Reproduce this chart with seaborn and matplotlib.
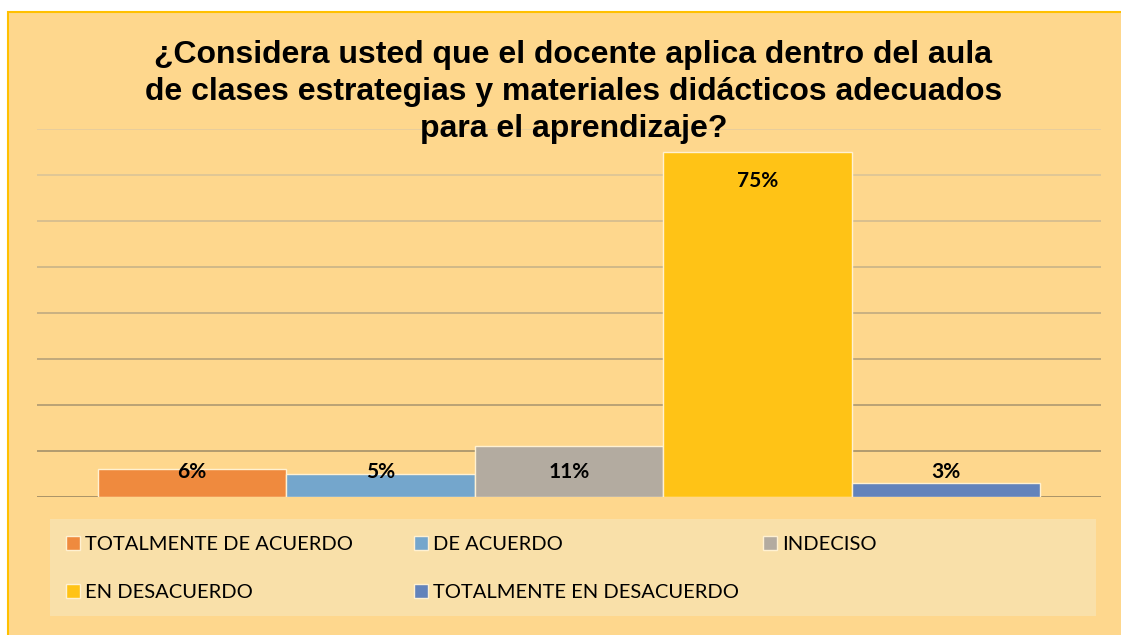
"""
Gráfico de barras: estrategias y materiales didácticos en el aula
"""

import pandas as pd
import matplotlib.pyplot as plt
import matplotlib.patches as mpatches
import matplotlib.colors as mcolors
import seaborn as sns
import numpy as np

# Datos de la encuesta
respuestas = ['TOTALMENTE DE ACUERDO', 'DE ACUERDO', 'INDECISO',
              'EN DESACUERDO', 'TOTALMENTE EN DESACUERDO']
porcentajes = [6, 5, 11, 75, 3]
colores = ['#EF8A3E', '#74A6CC', '#B3ABA0', '#FFC316', '#6383BB']
titulo = ('¿Considera usted que el docente aplica dentro del aula\n'
          'de clases estrategias y materiales didácticos adecuados\n'
          'para el aprendizaje?')

sns.set_theme(style='white')
plt.rcParams['font.family'] = ['Liberation Sans', 'DejaVu Sans']

df = pd.DataFrame({'grupo': [''] * len(respuestas),
                   'respuesta': respuestas,
                   'valor': porcentajes})

W, H = 1121, 635
fig = plt.figure(figsize=(W / 100, H / 100), dpi=100, facecolor='white')

# Fondo del área del gráfico con borde amarillo
fondo = mpatches.Rectangle((8 / W, -0.05), 1.2, 623 / H + 0.05,
                           transform=fig.transFigure, facecolor='#FED78D',
                           edgecolor='#FFC000', linewidth=1.5, zorder=-2)
fig.patches.append(fondo)

# Caja de la leyenda
caja = mpatches.Rectangle((50 / W, 19 / H), 1046 / W, 97 / H,
                          transform=fig.transFigure, facecolor='#F9E0A9',
                          edgecolor='none', zorder=-1)
fig.patches.append(caja)

ax = fig.add_axes([37 / W, 138 / H, 1064 / W, 368 / H])
ax.set_facecolor('none')

sns.barplot(data=df, x='grupo', y='valor', hue='respuesta', hue_order=respuestas,
            palette=colores, width=942 / 1064, saturation=1, ax=ax,
            edgecolor='#FFF1D2', linewidth=1)

ax.set_xlim(-0.5, 0.5)
ax.set_ylim(0, 80)
ax.set_yticks(np.arange(0, 81, 10))
ax.set_yticklabels([])
ax.set_xticks([])
ax.set_xlabel('')
ax.set_ylabel('')
for s in ax.spines.values():
    s.set_visible(False)

# Líneas de cuadrícula: más oscuras abajo, más claras arriba
ax.yaxis.grid(True, linewidth=1.2)
ax.set_axisbelow(True)
oscuro = np.array(mcolors.to_rgb('#9C8862'))
claro = np.array(mcolors.to_rgb('#E4CC9E'))
lineas = ax.get_ygridlines()
for i, ln in enumerate(lineas):
    t = i / (len(lineas) - 1)
    ln.set_color(oscuro * (1 - t) + claro * t)
ax.tick_params(left=False, bottom=False)

# Etiquetas de datos
for cont, v in zip(ax.containers, porcentajes):
    barra = cont[0]
    x = barra.get_x() + barra.get_width() / 2
    y = max(v - 6.2, 5.4)
    ax.text(x, y, f'{v}%', ha='center', va='center', fontsize=15,
            fontweight='bold', family=['Lato', 'DejaVu Sans'], color='black')

# Título
fig.text(573.5 / W, (H - 92) / H, titulo, ha='center', va='center', fontsize=23,
         fontweight='bold', linespacing=1.31, color='black')

# Leyenda en tres columnas
handles, labels = ax.get_legend_handles_labels()
if ax.get_legend() is not None:
    ax.get_legend().remove()

columnas = [[0, 3], [1, 4], [2]]
pos_x = [66, 414, 763]
for idx, px in zip(columnas, pos_x):
    leg = fig.legend([handles[i] for i in idx], [labels[i] for i in idx],
                     loc='upper left', bbox_to_anchor=(px / W, (H - 536) / H),
                     frameon=False, borderpad=0, borderaxespad=0,
                     handlelength=0.68, handleheight=0.68, handletextpad=0.28,
                     labelspacing=1.55, labelcolor='black',
                     prop={'family': ['Lato', 'DejaVu Sans'], 'size': 14.5})
    for h in leg.legend_handles:
        h.set_edgecolor('#FFF1D2')

fig.savefig('out.png', dpi=100)
